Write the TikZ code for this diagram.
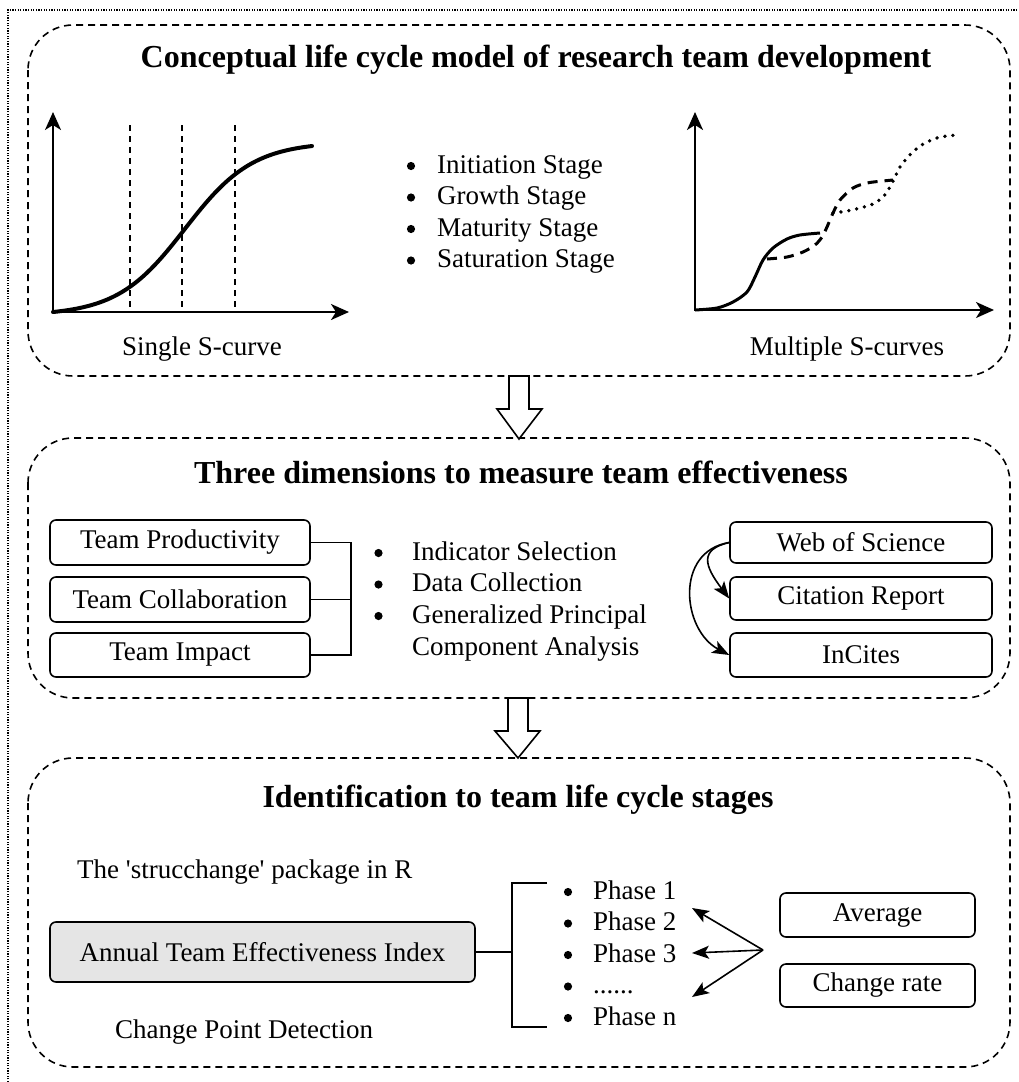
\documentclass[tikz,border=0pt]{standalone}
\usepackage{fontspec}
\setmainfont{Liberation Serif}
\usetikzlibrary{arrows.meta}
\begin{document}
\begin{tikzpicture}[x=1pt,y=-1pt,
  panel/.style={draw, line width=1.6pt, dash pattern=on 7pt off 5pt, rounded corners=45pt},
  box/.style={draw, line width=1.6pt, rounded corners=6pt, inner sep=0pt, font=\fontsize{27}{31}\selectfont},
  txt/.style={inner sep=0pt, font=\fontsize{27}{31}\selectfont},
  ttl/.style={inner sep=0pt, font=\fontsize{32}{38}\selectfont\bfseries},
  axes/.style={line width=2pt, line join=miter, {Stealth[length=18pt,width=16pt,inset=5pt]}-{Stealth[length=18pt,width=16pt,inset=5pt]}},
  vdash/.style={line width=1.6pt, dash pattern=on 6pt off 5pt},
  conn/.style={line width=1.6pt},
  arr/.style={line width=1.6pt, -{Stealth[length=17pt,width=13pt,inset=4pt]}},
  blockarrow/.style={draw, fill=white, line width=1.6pt, line join=miter},
  bul/.style={fill=black},
]
\useasboundingbox (0,0) rectangle (1018,1082);
% outer dotted frame (only top and left visible)
\draw[line width=1.3pt, dash pattern=on 1.3pt off 1.3pt] (8,1082) -- (8,10) -- (1018,10);

% panels
\draw[panel] (28,25) rectangle (1010,376);
\draw[panel] (28,438) rectangle (1010,698);
\draw[panel] (28,758) rectangle (1010,1067);

% block arrows
\draw[blockarrow] (509,376) -- (529,376) -- (529,409) -- (542,409) -- (519,439) -- (497,409) -- (509,409) -- cycle;
\draw[blockarrow] (508,698) -- (528,698) -- (528,731) -- (540,731) -- (518,758) -- (495,731) -- (508,731) -- cycle;

% ---------- panel 1 ----------
\node[ttl, anchor=base] (t1) at (536,67) {Conceptual life cycle model of research team development};

% left graph
\draw[axes] (53,112) -- (53,312) -- (349,312);
\draw[vdash] (130,125) -- (130,312);
\draw[vdash] (182,125) -- (182,312);
\draw[vdash] (235,125) -- (235,312);
\draw[line width=4pt, line cap=round] plot[domain=53:312, samples=120] (\x, {315.5-173.5/(1+exp(-(\x-185)/34))});
\node[txt, anchor=base] (lg) at (202,355) {Single S-curve};

% list
\foreach \t/\yy [count=\i] in {Initiation Stage/173, Growth Stage/204.5, Maturity Stage/236, Saturation Stage/267.5}{
  \node[txt, anchor=base west] (s\i) at (437,\yy) {\t};
  \fill[bul] ([shift={(-26,-7)}]s\i.base west) circle (4.1pt);
}

% right graph
\draw[axes] (695,112) -- (695,310) -- (994,310);
\draw[line width=3pt] plot[smooth] coordinates {(695,310) (717,308) (733,302) (747,292) (755,277) (763,260) (773,248) (787,239) (800,235) (820,233)};
\draw[line width=3pt, dash pattern=on 10pt off 7pt] plot[smooth] coordinates {(767,259) (787,257) (803,252) (815,245) (822,237) (827,227) (833,213) (840,200) (853,188) (867,183) (883,181) (893,180)};
\draw[line width=3.8pt, line cap=round, dash pattern=on 0pt off 8pt] plot[smooth] coordinates {(833,213) (847,211) (860,208) (873,204) (883,197) (890,187) (895,177) (900,167) (907,158) (915,150) (925,143) (937,138) (947,136) (958,135)};
\node[txt, anchor=base] (rg) at (847,355) {Multiple S-curves};

% ---------- panel 2 ----------
\node[ttl, anchor=base] (t2) at (521,483) {Three dimensions to measure team effectiveness};

\node[box, minimum width=260pt, minimum height=45pt] (tp) at (180,542.5) {Team Productivity};
\node[box, minimum width=260pt, minimum height=45pt] (tc) at (180,599.5) {Team Collaboration};
\node[box, minimum width=260pt, minimum height=44pt] (ti) at (180,655) {Team Impact};
\coordinate (b1) at (351,0);
\draw[conn] (tp.east) -- (tp.east -| b1) |- (ti.east);
\draw[conn] (tc.east) -- (tc.east -| b1);

\node[txt, anchor=base west] (m1) at (412,560) {Indicator Selection};
\node[txt, anchor=base west] (m2) at (412,591.5) {Data Collection};
\node[txt, anchor=base west] (m3) at (412,623) {Generalized Principal};
\node[txt, anchor=base west] (m4) at (412,655) {Component Analysis};
\foreach \i in {1,2,3}
  \fill[bul] ([shift={(-33.5,-7)}]m\i.base west) circle (4.1pt);

\node[box, minimum width=262pt, minimum height=41pt] (ws) at (861,542.5) {Web of Science};
\node[box, minimum width=262pt, minimum height=43pt] (cr) at (861,598.5) {Citation Report};
\node[box, minimum width=262pt, minimum height=44pt] (ic) at (861,655) {InCites};
\draw[arr] (ws.west) .. controls +(-30,7) and +(-25,-33) .. (cr.west);
\draw[arr] (ws.west) .. controls +(-55,9) and +(-47,-25) .. (ic.west);

% ---------- panel 3 ----------
\node[ttl, anchor=base] (t3) at (518,807) {Identification to team life cycle stages};
\node[txt, anchor=base west] (pk) at (77,878) {The \textquotesingle strucchange\textquotesingle{} package in R};
\node[box, fill=black!10, minimum width=425pt, minimum height=60pt] (ann) at (262.5,952) {Annual Team Effectiveness Index};
\node[txt, anchor=base west] (cpd) at (115,1038) {Change Point Detection};

\coordinate (b2) at (512,0);
\coordinate (bt) at (547,883);
\coordinate (bb) at (547,1027);
\draw[conn] (ann.east) -- (ann.east -| b2);
\draw[conn] (bt) -| (b2 |- bb) -- (bb);

\node[txt, anchor=base west] (p1) at (593,899) {Phase 1};
\node[txt, anchor=base west] (p2) at (593,930.5) {Phase 2};
\node[txt, anchor=base west] (p3) at (593,962) {Phase 3};
\node[txt, anchor=base west] (p4) at (593,993.5) {......};
\node[txt, anchor=base west] (p5) at (593,1025) {Phase n};
\foreach \i in {1,...,5}
  \fill[bul] ([shift={(-25,-7)}]p\i.base west) circle (4.1pt);

\node[box, minimum width=195pt, minimum height=44pt] (av) at (877.5,915) {Average};
\node[box, minimum width=195pt, minimum height=43pt] (chr) at (877.5,985.5) {Change rate};

\coordinate (hub) at (763,950);
\coordinate (e1) at (692,908);
\coordinate (e2) at (692,953);
\coordinate (e3) at (692,997);
\draw[arr] (hub) -- (e1);
\draw[arr] (hub) -- (e2);
\draw[arr] (hub) -- (e3);
\end{tikzpicture}
\end{document}
